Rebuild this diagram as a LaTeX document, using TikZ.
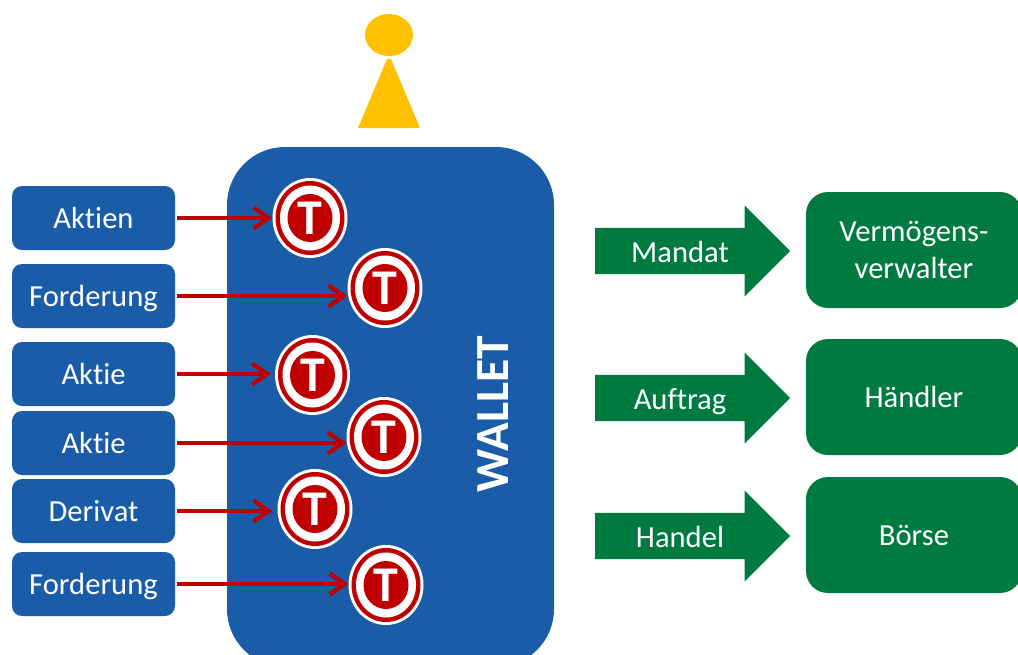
\documentclass[tikz,border=0pt]{standalone}
\usepackage{fontspec}
\setmainfont[Ligatures=NoCommon]{Carlito}
\usetikzlibrary{shapes.geometric, shapes.arrows, arrows.meta}

\definecolor{walletblue}{HTML}{1A5CA8}
\definecolor{rolegreen}{HTML}{007B40}
\definecolor{tokenred}{HTML}{C00000}
\definecolor{personyellow}{HTML}{FFC000}

\tikzstyle{asset} = [rectangle, rounded corners=10pt, fill=walletblue, text=white, minimum width=163pt, minimum height=64pt, inner sep=0pt, text height=27pt, text depth=6pt, font=\fontsize{30.6}{37}\selectfont]
\tikzstyle{role} = [rectangle, rounded corners=22pt, fill=rolegreen, text=white, minimum width=216pt, minimum height=116pt, inner sep=0pt, align=center, font=\fontsize{30.6}{37}\selectfont]
\tikzstyle{order} = [single arrow, fill=rolegreen, minimum height=195pt, minimum width=91pt, single arrow head extend=22.5pt, single arrow head indent=0pt, inner sep=0pt, text height=46pt, text depth=0pt, anchor=tail]
\tikzstyle{ordertext} = [text=white, inner sep=0pt, text height=27pt, text depth=6pt, font=\fontsize{30.6}{37}\selectfont]
\tikzstyle{hold} = [draw=tokenred, line width=4.2pt, -{Straight Barb[length=15pt, width=21pt, line width=4.2pt]}]

\newcommand{\tokenmark}[3]{
    \node[ellipse, fill=white, minimum width=75pt, minimum height=80pt, inner sep=0pt] (#1) at (#2,#3) {};
    \node[ellipse, fill=tokenred, minimum width=69pt, minimum height=74pt, inner sep=0pt] at (#2,#3) {};
    \node[ellipse, fill=white, minimum width=60pt, minimum height=65pt, inner sep=0pt] at (#2,#3) {};
    \node[ellipse, fill=tokenred, minimum width=45pt, minimum height=48pt, inner sep=0pt, text=white, font=\fontsize{50}{50}\selectfont\bfseries] at (#2,#3) {T};
}

\begin{document}
\begin{tikzpicture}[x=1pt, y=-1pt]
\useasboundingbox (0,0) rectangle (1018,654);

% owner
\node[ellipse, fill=personyellow, minimum width=48pt, minimum height=42pt, inner sep=0pt] (head) at (389,35) {};
\fill[personyellow] (358,128) -- (387,59) -- (391,59) -- (420,128) -- cycle;

% wallet
\node[rectangle, rounded corners=58pt, fill=walletblue, minimum width=327pt, minimum height=520pt] (wallet) at (390.5,407) {};
\node[rotate=90, text=white, font=\fontsize{47.5}{50}\selectfont\bfseries] (walletlabel) at (493,414) {WALLET};

% assets
\node[asset] (aktien) at (93.5,218) {Aktien};
\node[asset] (forderungA) at (93.5,296) {Forderung};
\node[asset] (aktieA) at (93.5,374) {Aktie};
\node[asset] (aktieB) at (93.5,443) {Aktie};
\node[asset] (derivat) at (93.5,511) {Derivat};
\node[asset] (forderungB) at (93.5,584) {Forderung};

% tokens
\tokenmark{tokenA}{310}{218}
\tokenmark{tokenB}{385}{288}
\tokenmark{tokenC}{312.5}{375}
\tokenmark{tokenD}{384}{437}
\tokenmark{tokenE}{315}{509}
\tokenmark{tokenF}{386}{585}

\draw[hold, shorten <=2pt] (aktien) -- (aktien -| tokenA.west);
\draw[hold, shorten <=2pt] (forderungA) -- (forderungA -| tokenB.west);
\draw[hold, shorten <=2pt, shorten >=4pt] (aktieA) -- (aktieA -| tokenC.west);
\draw[hold, shorten <=2pt] (aktieB) -- (aktieB -| tokenD.west);
\draw[hold, shorten <=2pt, shorten >=5pt] (derivat) -- (derivat -| tokenE.west);
\draw[hold, shorten <=2pt] (forderungB) -- (forderungB -| tokenF.west);

% roles
\node[order] (mandat) at (595,251) {};
\node[order] (auftrag) at (595,398) {};
\node[order] (handel) at (595,536) {};
\node[ordertext] (mandattext) at (680,252) {Mandat};
\node[ordertext] (auftragtext) at (680,399) {Auftrag};
\node[ordertext] (handeltext) at (680,537) {Handel};
\node[role] (verwalter) at (914,250) {Vermögens-\\verwalter};
\node[role] (haendler) at (914,397) {Händler};
\node[role] (boerse) at (914,535) {Börse};
\end{tikzpicture}
\end{document}
